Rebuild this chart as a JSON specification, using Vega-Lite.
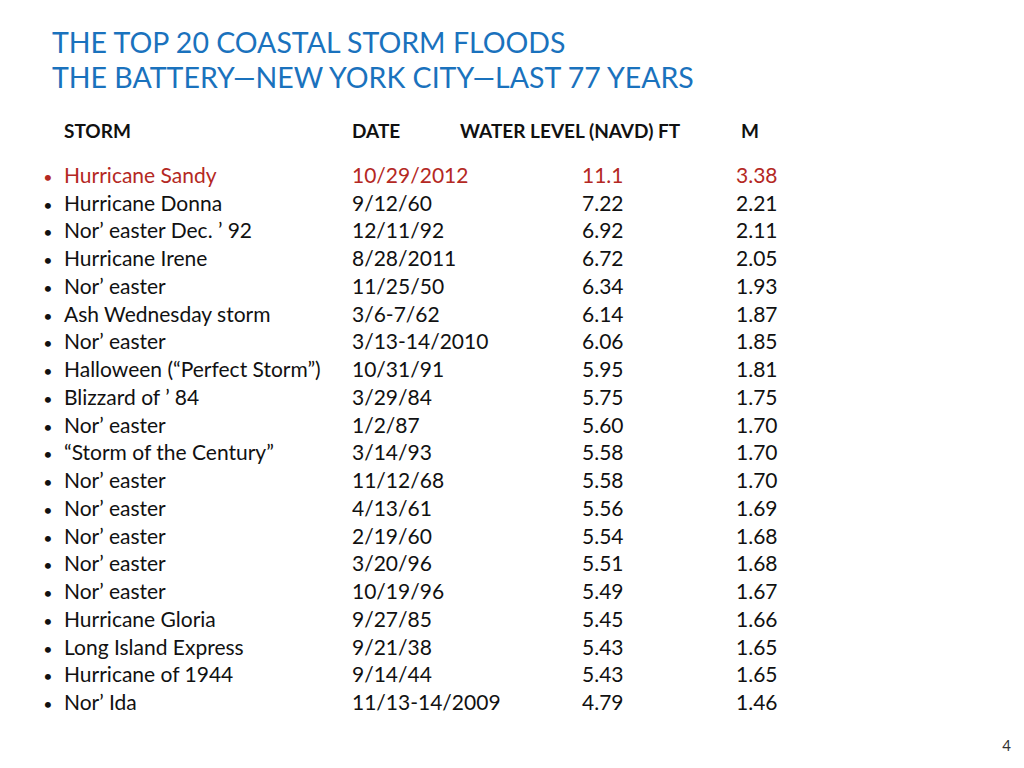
{
  "$schema": "https://vega.github.io/schema/vega-lite/v6.json",
  "width": 1024,
  "height": 768,
  "autosize": "none",
  "padding": 0,
  "background": "white",
  "config": {"view": {"stroke": null}, "text": {"font": "Lato", "baseline": "alphabetic", "align": "left"}},
  "datasets": {
    "title": [{"line1": "THE TOP 20 COASTAL STORM FLOODS", "line2": "THE BATTERY—NEW YORK CITY—LAST 77 YEARS"}],
    "headers": [{"storm": "STORM", "date": "DATE", "level": "WATER LEVEL (NAVD) FT", "m": "M"}],
    "page": [{"page": "4"}],
    "storms": [
      {"rank": 1, "storm": "Hurricane Sandy", "date": "10/29/2012", "ft": "11.1", "m": "3.38"},
      {"rank": 2, "storm": "Hurricane Donna", "date": "9/12/60", "ft": "7.22", "m": "2.21"},
      {"rank": 3, "storm": "Nor’ easter Dec. ’ 92", "date": "12/11/92", "ft": "6.92", "m": "2.11"},
      {"rank": 4, "storm": "Hurricane Irene", "date": "8/28/2011", "ft": "6.72", "m": "2.05"},
      {"rank": 5, "storm": "Nor’ easter", "date": "11/25/50", "ft": "6.34", "m": "1.93"},
      {"rank": 6, "storm": "Ash Wednesday storm", "date": "3/6-7/62", "ft": "6.14", "m": "1.87"},
      {"rank": 7, "storm": "Nor’ easter", "date": "3/13-14/2010", "ft": "6.06", "m": "1.85"},
      {"rank": 8, "storm": "Halloween (“Perfect Storm”)", "date": "10/31/91", "ft": "5.95", "m": "1.81"},
      {"rank": 9, "storm": "Blizzard of ’ 84", "date": "3/29/84", "ft": "5.75", "m": "1.75"},
      {"rank": 10, "storm": "Nor’ easter", "date": "1/2/87", "ft": "5.60", "m": "1.70"},
      {"rank": 11, "storm": "“Storm of the Century”", "date": "3/14/93", "ft": "5.58", "m": "1.70"},
      {"rank": 12, "storm": "Nor’ easter", "date": "11/12/68", "ft": "5.58", "m": "1.70"},
      {"rank": 13, "storm": "Nor’ easter", "date": "4/13/61", "ft": "5.56", "m": "1.69"},
      {"rank": 14, "storm": "Nor’ easter", "date": "2/19/60", "ft": "5.54", "m": "1.68"},
      {"rank": 15, "storm": "Nor’ easter", "date": "3/20/96", "ft": "5.51", "m": "1.68"},
      {"rank": 16, "storm": "Nor’ easter", "date": "10/19/96", "ft": "5.49", "m": "1.67"},
      {"rank": 17, "storm": "Hurricane Gloria", "date": "9/27/85", "ft": "5.45", "m": "1.66"},
      {"rank": 18, "storm": "Long Island Express", "date": "9/21/38", "ft": "5.43", "m": "1.65"},
      {"rank": 19, "storm": "Hurricane of 1944", "date": "9/14/44", "ft": "5.43", "m": "1.65"},
      {"rank": 20, "storm": "Nor’ Ida", "date": "11/13-14/2009", "ft": "4.79", "m": "1.46"}
    ]
  },
  "layer": [
    {
      "data": {"name": "title"},
      "mark": {"type": "text", "fontSize": 28.5, "color": "#1A72BD"},
      "encoding": {
        "x": {"datum": -1, "type": "quantitative", "axis": null,
              "scale": {"domain": [-1, 0, 1, 2, 3, 4, 5, 6, 7], "range": [52, 48, 64, 352, 460, 582, 736, 741, 1011], "zero": false, "nice": false}},
        "y": {"datum": -3, "type": "quantitative", "axis": null,
              "scale": {"domain": [-3, -2, 0, 1, 20, 22], "range": [53, 88, 138, 183, 710, 751], "zero": false, "nice": false}},
        "text": {"field": "line1"}
      }
    },
    {
      "data": {"name": "title"},
      "mark": {"type": "text", "fontSize": 28.5, "color": "#1A72BD"},
      "encoding": {
        "x": {"datum": -1, "type": "quantitative"},
        "y": {"datum": -2, "type": "quantitative"},
        "text": {"field": "line2"}
      }
    },
    {
      "data": {"name": "headers"},
      "mark": {"type": "text", "fontSize": 19, "fontWeight": "bold", "color": "#111111"},
      "encoding": {"x": {"datum": 1, "type": "quantitative"}, "y": {"datum": 0, "type": "quantitative"}, "text": {"field": "storm"}}
    },
    {
      "data": {"name": "headers"},
      "mark": {"type": "text", "fontSize": 19, "fontWeight": "bold", "color": "#111111"},
      "encoding": {"x": {"datum": 2, "type": "quantitative"}, "y": {"datum": 0, "type": "quantitative"}, "text": {"field": "date"}}
    },
    {
      "data": {"name": "headers"},
      "mark": {"type": "text", "fontSize": 19, "fontWeight": "bold", "color": "#111111"},
      "encoding": {"x": {"datum": 3, "type": "quantitative"}, "y": {"datum": 0, "type": "quantitative"}, "text": {"field": "level"}}
    },
    {
      "data": {"name": "headers"},
      "mark": {"type": "text", "fontSize": 19, "fontWeight": "bold", "color": "#111111"},
      "encoding": {"x": {"datum": 6, "type": "quantitative"}, "y": {"datum": 0, "type": "quantitative"}, "text": {"field": "m"}}
    },
    {
      "data": {"name": "storms"},
      "mark": {"type": "text", "fontSize": 16, "align": "center"},
      "encoding": {
        "x": {"datum": 0, "type": "quantitative"},
        "y": {"field": "rank", "type": "quantitative"},
        "text": {"value": "•"},
        "color": {"condition": {"test": "datum.rank === 1", "value": "#B42823"}, "value": "#111111"}
      }
    },
    {
      "data": {"name": "storms"},
      "mark": {"type": "text", "fontSize": 21},
      "encoding": {
        "x": {"datum": 1, "type": "quantitative"},
        "y": {"field": "rank", "type": "quantitative"},
        "text": {"field": "storm"},
        "color": {"condition": {"test": "datum.rank === 1", "value": "#B42823"}, "value": "#111111"}
      }
    },
    {
      "data": {"name": "storms"},
      "mark": {"type": "text", "fontSize": 21},
      "encoding": {
        "x": {"datum": 2, "type": "quantitative"},
        "y": {"field": "rank", "type": "quantitative"},
        "text": {"field": "date"},
        "color": {"condition": {"test": "datum.rank === 1", "value": "#B42823"}, "value": "#111111"}
      }
    },
    {
      "data": {"name": "storms"},
      "mark": {"type": "text", "fontSize": 21},
      "encoding": {
        "x": {"datum": 4, "type": "quantitative"},
        "y": {"field": "rank", "type": "quantitative"},
        "text": {"field": "ft"},
        "color": {"condition": {"test": "datum.rank === 1", "value": "#B42823"}, "value": "#111111"}
      }
    },
    {
      "data": {"name": "storms"},
      "mark": {"type": "text", "fontSize": 21},
      "encoding": {
        "x": {"datum": 5, "type": "quantitative"},
        "y": {"field": "rank", "type": "quantitative"},
        "text": {"field": "m"},
        "color": {"condition": {"test": "datum.rank === 1", "value": "#B42823"}, "value": "#111111"}
      }
    },
    {
      "data": {"name": "page"},
      "mark": {"type": "text", "fontSize": 15, "align": "right", "color": "#333333"},
      "encoding": {"x": {"datum": 7, "type": "quantitative"}, "y": {"datum": 22, "type": "quantitative"}, "text": {"field": "page"}}
    }
  ]
}
